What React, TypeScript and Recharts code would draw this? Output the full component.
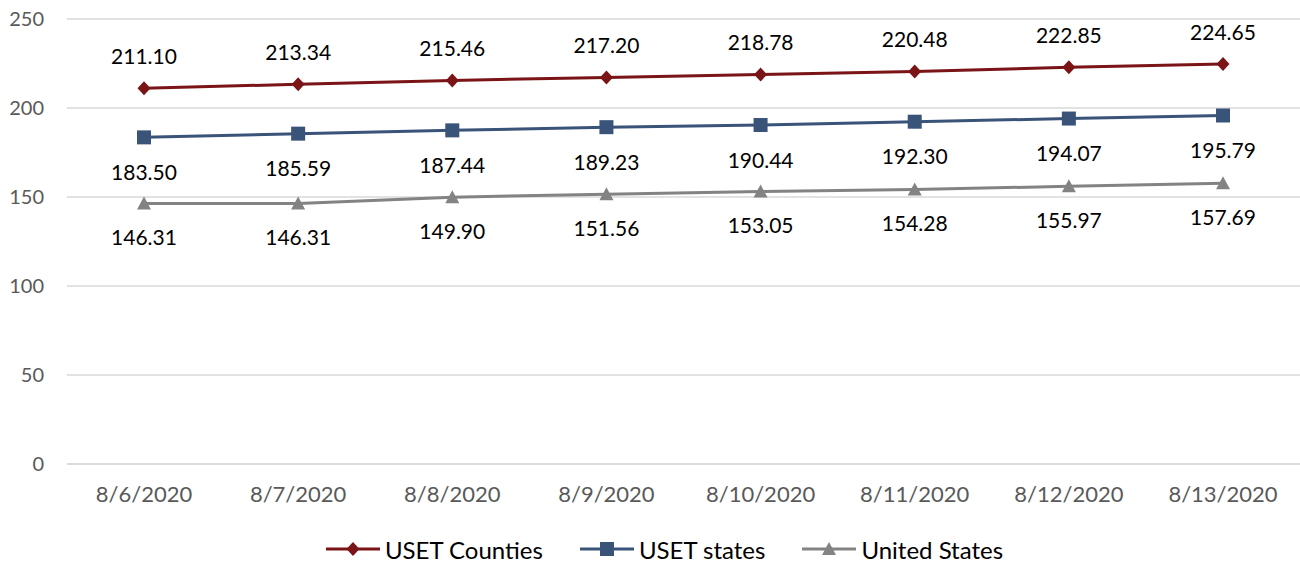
import React from 'react'
import {
  LineChart,
  Line,
  XAxis,
  YAxis,
  CartesianGrid,
  Legend,
} from 'recharts'

const dates = ['8/6/2020', '8/7/2020', '8/8/2020', '8/9/2020', '8/10/2020', '8/11/2020', '8/12/2020', '8/13/2020']
const usetCounties = [211.1, 213.34, 215.46, 217.2, 218.78, 220.48, 222.85, 224.65]
const usetStates = [183.5, 185.59, 187.44, 189.23, 190.44, 192.3, 194.07, 195.79]
const unitedStates = [146.31, 146.31, 149.9, 151.56, 153.05, 154.28, 155.97, 157.69]
const yTicks = [0, 50, 100, 150, 200, 250]

const data = dates.map((d, i) => ({
  date: d,
  counties: usetCounties[i],
  states: usetStates[i],
  us: unitedStates[i],
}))

const RED = '#7a1416'
const BLUE = '#3a5479'
const GRAY = '#838383'
const FONT = 'Lato, sans-serif'

const Diamond = (props: any) => {
  const { cx, cy, fill } = props
  if (cx == null || cy == null) return null
  return <polygon points={`${cx},${cy - 7} ${cx + 6.5},${cy} ${cx},${cy + 7} ${cx - 6.5},${cy}`} fill={fill} />
}

const Square = (props: any) => {
  const { cx, cy, fill } = props
  if (cx == null || cy == null) return null
  return <rect x={cx - 7} y={cy - 7} width={14} height={14} fill={fill} />
}

const Triangle = (props: any) => {
  const { cx, cy, fill } = props
  if (cx == null || cy == null) return null
  return <polygon points={`${cx},${cy - 7} ${cx + 7},${cy + 6} ${cx - 7},${cy + 6}`} fill={fill} />
}

const makeLabel = (offset: number) => (props: any) => {
  const { x, y, value } = props
  return (
    <text
      x={x}
      y={y + offset}
      textAnchor='middle'
      dominantBaseline='central'
      fontFamily={FONT}
      fontSize={21}
      fill='#000'
    >
      {Number(value).toFixed(2)}
    </text>
  )
}

const legendItems = [
  { name: 'USET Counties', color: RED, shape: 'diamond' },
  { name: 'USET states', color: BLUE, shape: 'square' },
  { name: 'United States', color: GRAY, shape: 'triangle' },
]

const CustomLegend = () => (
  <div
    style={{
      display: 'flex',
      justifyContent: 'center',
      alignItems: 'center',
      gap: 37,
      fontFamily: FONT,
      fontSize: 24,
      color: '#000',
      height: 50,
      paddingTop: 20,
      paddingLeft: 29,
      boxSizing: 'border-box',
    }}
  >
    {legendItems.map((it) => (
      <div key={it.name} style={{ display: 'flex', alignItems: 'center' }}>
        <svg width={54} height={16}>
          <line x1={0} y1={8} x2={54} y2={8} stroke={it.color} strokeWidth={3} />
          {it.shape === 'diamond' && <Diamond cx={27} cy={8} fill={it.color} />}
          {it.shape === 'square' && <Square cx={27} cy={8} fill={it.color} />}
          {it.shape === 'triangle' && <Triangle cx={27} cy={8} fill={it.color} />}
        </svg>
        <span style={{ marginLeft: 5 }}>{it.name}</span>
      </div>
    ))}
  </div>
)

const App = () => {
  return (
    <div style={{ position: 'absolute', top: 0, left: 0 }}>
      <LineChart width={1300} height={564} data={data} margin={{ top: 19, right: 0, left: 0, bottom: 0 }}>
        <CartesianGrid vertical={false} stroke='#d9d9d9' strokeWidth={1.3} />
        <XAxis
          dataKey='date'
          axisLine={{ stroke: '#d9d9d9', strokeWidth: 1.3 }}
          tickLine={false}
          tickMargin={16}
          height={50}
          interval={0}
          padding={{ left: 77, right: 77 }}
          tick={{ fill: '#595959', fontSize: 22, fontFamily: FONT }}
        />
        <YAxis
          domain={[0, 250]}
          ticks={yTicks}
          axisLine={false}
          tickLine={false}
          tickMargin={17}
          width={67}
          tick={{ fill: '#595959', fontSize: 20, fontFamily: FONT }}
        />
        <Legend verticalAlign='bottom' height={50} content={<CustomLegend />} />
        <Line
          dataKey='counties'
          name='USET Counties'
          stroke={RED}
          strokeWidth={3}
          dot={<Diamond fill={RED} />}
          label={makeLabel(-33)}
          isAnimationActive={false}
        />
        <Line
          dataKey='states'
          name='USET states'
          stroke={BLUE}
          strokeWidth={3}
          dot={<Square fill={BLUE} />}
          label={makeLabel(34)}
          isAnimationActive={false}
        />
        <Line
          dataKey='us'
          name='United States'
          stroke={GRAY}
          strokeWidth={3}
          dot={<Triangle fill={GRAY} />}
          label={makeLabel(33)}
          isAnimationActive={false}
        />
      </LineChart>
    </div>
  )
}

export default App
